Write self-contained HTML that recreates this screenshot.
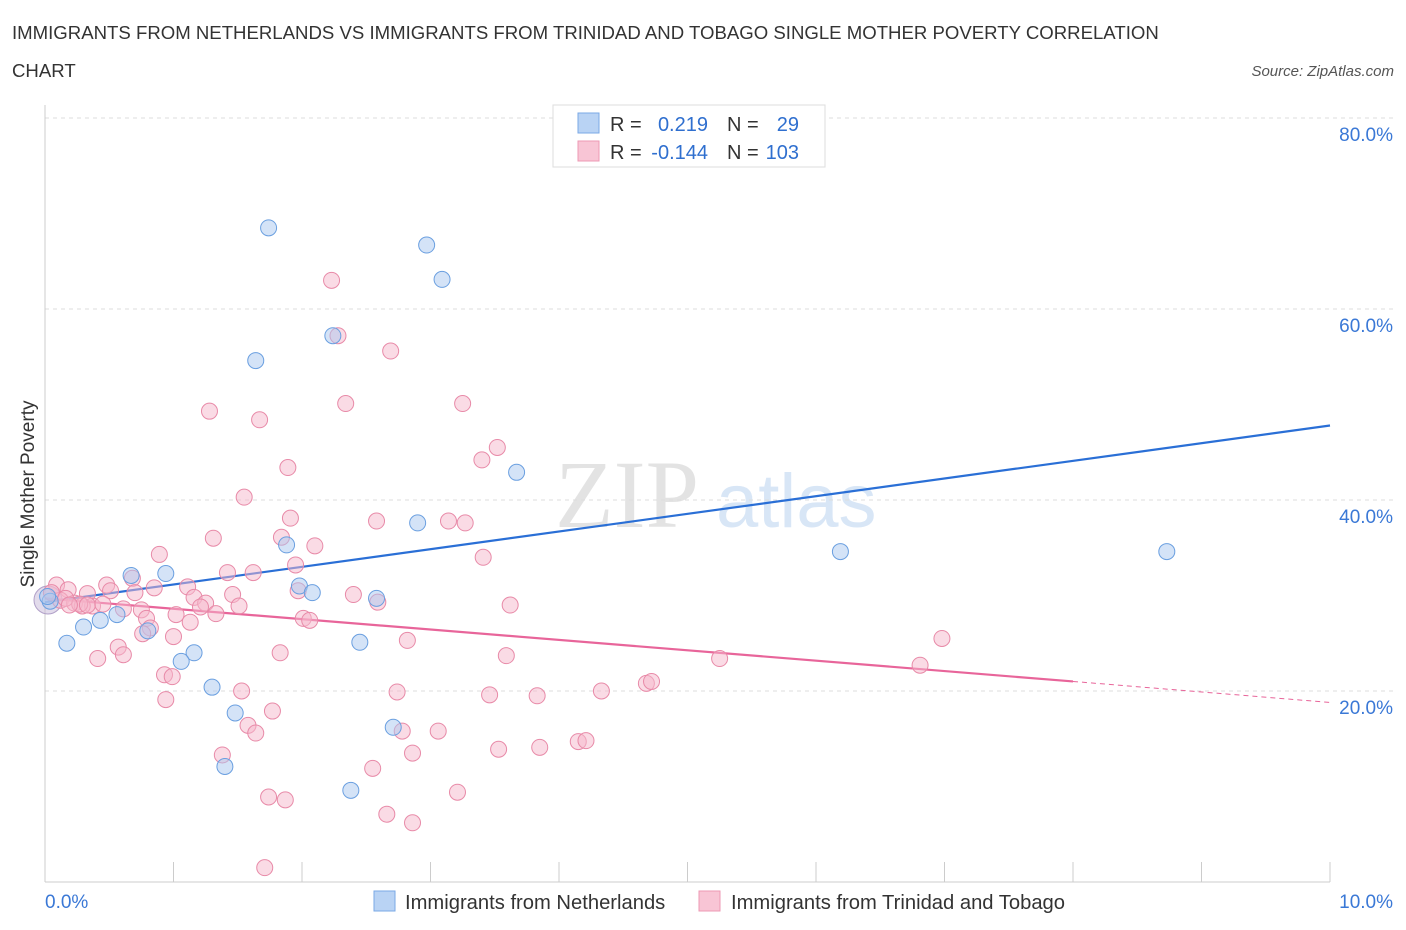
<!DOCTYPE html>
<html><head><meta charset="utf-8"><style>
body{margin:0;background:#fff;font-family:"Liberation Sans",sans-serif;}
svg{display:block}
</style></head><body>
<svg id="chart" width="1406" height="930">
<text x="12" y="39" font-size="18.6" fill="#333">IMMIGRANTS FROM NETHERLANDS VS IMMIGRANTS FROM TRINIDAD AND TOBAGO SINGLE MOTHER POVERTY CORRELATION</text>
<text x="12" y="77" font-size="18.6" fill="#333">CHART</text>
<text x="1394" y="76" font-size="15" fill="#555" font-style="italic" text-anchor="end">Source: ZipAtlas.com</text>
<text x="34" y="494" font-size="19" fill="#333" text-anchor="middle" transform="rotate(-90 34 494)">Single Mother Poverty</text>
<g><text x="555" y="527" font-size="96" fill="#ddd" font-family="Liberation Serif,serif" opacity="0.8">ZIP</text><text x="716" y="527" font-size="76" fill="#cfe0f5" opacity="0.8">atlas</text></g>
<g id="grid"></g><g id="ticks"></g><g id="lines"></g><g id="pts"></g>
<g>
<rect x="553" y="105" width="272" height="62" fill="#fff" stroke="#ddd"/>
<rect x="578" y="113" width="21" height="20" fill="#b9d3f4" stroke="#7aa8e6"/>
<rect x="578" y="141" width="21" height="20" fill="#f8c5d5" stroke="#ee99b4"/>
<text x="610" y="131" font-size="20" fill="#333">R =</text><text x="708" y="131" font-size="20" fill="#2f6fcf" text-anchor="end">0.219</text>
<text x="727" y="131" font-size="20" fill="#333">N =</text><text x="799" y="131" font-size="20" fill="#2f6fcf" text-anchor="end">29</text>
<text x="610" y="159" font-size="20" fill="#333">R =</text><text x="708" y="159" font-size="20" fill="#2f6fcf" text-anchor="end">-0.144</text>
<text x="727" y="159" font-size="20" fill="#333">N =</text><text x="799" y="159" font-size="20" fill="#2f6fcf" text-anchor="end">103</text>
</g>
<g>
<rect x="374" y="891" width="21" height="20" fill="#b9d3f4" stroke="#7aa8e6"/>
<text x="405" y="909" font-size="20.2" fill="#333">Immigrants from Netherlands</text>
<rect x="699" y="891" width="21" height="20" fill="#f8c5d5" stroke="#ee99b4"/>
<text x="731" y="909" font-size="20.2" fill="#333">Immigrants from Trinidad and Tobago</text>
</g>
</svg>
<script>
const yTicks=[20,40,60,80];
const xTickLabels=["0.0%","10.0%"];
const blueX=[1.74,2.97,3.09,2.24,1.64,3.67,2.90,1.88,6.19,8.73,0.94,0.67,1.98,2.08,2.58,0.04,0.02,0.56,0.43,0.30,0.80,0.17,2.45,1.16,1.06,1.30,1.48,2.71,1.40,2.38];
const blueY=[68.5,66.7,63.1,57.2,54.6,42.9,37.6,35.3,34.6,34.6,32.3,32.1,31.0,30.3,29.7,29.4,29.9,28.0,27.4,26.7,26.3,25.0,25.1,24.0,23.1,20.4,17.7,16.2,12.1,9.6];
const pinkX=[2.23,2.28,2.69,2.34,3.25,1.28,1.67,1.89,3.52,3.40,1.55,1.91,2.58,3.14,3.27,1.31,1.84,2.10,3.41,0.89,1.42,1.62,1.95,0.68,0.48,0.09,0.18,0.85,1.11,0.51,0.33,0.70,1.97,2.40,1.46,1.16,1.25,2.59,0.12,0.23,0.37,0.61,0.29,1.51,1.21,3.62,0.75,1.02,1.33,2.01,2.06,0.79,1.13,0.82,0.76,1.00,2.82,6.98,0.57,0.61,0.41,1.83,3.59,5.25,6.81,0.93,0.99,4.68,4.72,4.33,1.53,2.74,3.46,3.83,0.94,1.77,1.58,1.64,3.06,2.78,1.38,2.86,3.53,3.85,4.15,4.21,2.55,3.21,1.74,1.87,2.66,2.86,1.71,0.05,0.16,0.27,0.33,0.45,0.19];
const pinkY=[63.0,57.2,55.6,50.1,50.1,49.3,48.4,43.4,45.5,44.2,40.3,38.1,37.8,37.8,37.6,36.0,36.1,35.2,34.0,34.3,32.4,32.4,33.2,31.8,31.1,31.1,30.6,30.8,30.9,30.5,30.2,30.3,30.5,30.1,30.1,29.8,29.2,29.3,29.5,29.2,28.9,28.6,28.9,28.9,28.8,29.0,28.5,28.0,28.1,27.6,27.4,27.6,27.2,26.6,26.0,25.7,25.3,25.5,24.6,23.8,23.4,24.0,23.7,23.4,22.7,21.7,21.5,20.8,21.0,20.0,20.0,19.9,19.6,19.5,19.1,17.9,16.4,15.6,15.8,15.8,13.3,13.5,13.9,14.1,14.7,14.8,11.9,9.4,8.9,8.6,7.1,6.2,1.5,30.3,29.7,29.1,29.0,29.1,29.0];
const blueTrend=[29.3,47.8];
const pinkTrend=[29.7,21.0,18.8];
const X=v=>45+v*128.5, Y=v=>882-v*9.55;
const NS="http://www.w3.org/2000/svg";
function mk(tag,attrs,parent){const e=document.createElementNS(NS,tag);for(const k in attrs)e.setAttribute(k,attrs[k]);document.getElementById(parent).appendChild(e);return e;}
yTicks.forEach(t=>{
 const g=mk('line',{x1:45,x2:1395,y1:Y(t),y2:Y(t),stroke:'#ddd','stroke-dasharray':'4,4'},'grid');
 
 
 const l=mk('text',{x:1393,y:Y(t)+23,'font-size':19,fill:'#3a78d6','text-anchor':'end'},'grid');
 l.textContent=t+'.0%';
 
 
});
mk('line',{x1:45,x2:45,y1:105,y2:882,stroke:'#ccc'},'ticks');
mk('line',{x1:45,x2:1330,y1:882,y2:882,stroke:'#ccc'},'ticks');
for(let i=0;i<=10;i++){const t=mk('line',{x1:X(i),x2:X(i),y1:862,y2:882,stroke:'#ccc'},'ticks');}
xTickLabels.forEach((s,i)=>{const t=mk('text',{x:i?1393:45,y:908,'font-size':19,fill:'#3a78d6','text-anchor':i?'end':'start'},'ticks');t.textContent=s;});
const bl=mk('line',{x1:X(0),y1:Y(blueTrend[0]),x2:X(10),y2:Y(blueTrend[1]),stroke:'#2a6fd6','stroke-width':2.2},'lines');


const pl=mk('line',{x1:X(0),y1:Y(pinkTrend[0]),x2:X(8),y2:Y(pinkTrend[1]),stroke:'#e8659a','stroke-width':2.2},'lines');


const pd=mk('line',{x1:X(8),y1:Y(pinkTrend[1]),x2:X(10),y2:Y(pinkTrend[2]),stroke:'#e8659a','stroke-width':1,'stroke-dasharray':'5,4'},'lines');


function pts(xs,ys,fill,stroke,name){xs.forEach((x,i)=>{const c=mk('circle',{cx:X(x),cy:Y(ys[i]),r:8,fill:fill,'fill-opacity':0.5,stroke:stroke,'stroke-width':1},'pts');});}
const big=mk('circle',{cx:48,cy:600,r:14,fill:'#c5b8d8','fill-opacity':0.5,stroke:'#b0a0c8'},'pts');


pts(pinkX,pinkY,'#f6b8cb','#e88aa8','trinidad-point');
pts(blueX,blueY,'#a9c8f0','#6a9fe0','netherlands-point');
</script>
</body></html>
